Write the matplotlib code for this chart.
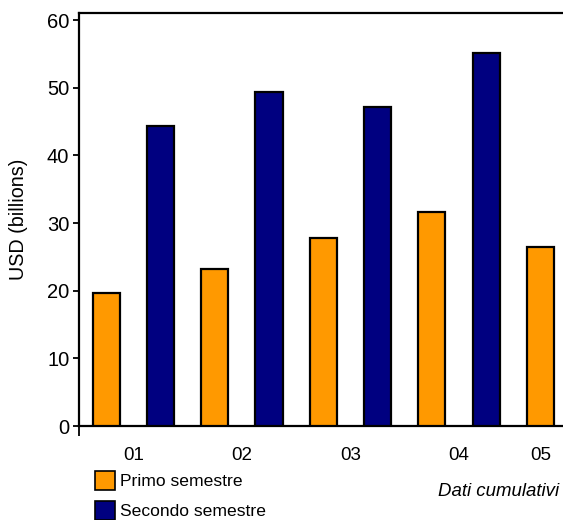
import matplotlib
matplotlib.use("Agg")
import matplotlib.pyplot as plt
from matplotlib.patches import Patch

plt.rcParams['font.family'] = ['Liberation Sans', 'DejaVu Sans']

# Data (USD billions)
categories = ["01", "02", "03", "04", "05"]
primo = [19.6, 23.2, 27.8, 31.6, 26.4]
secondo = [44.3, 49.3, 47.2, 55.1, None]
series_names = ["Primo semestre", "Secondo semestre"]
colors = ["#FF9900", "#000080"]
y_ticks = [0, 10, 20, 30, 40, 50, 60]

W, H = 563, 520
fig = plt.figure(figsize=(W / 100, H / 100), dpi=100)
ax = fig.add_axes([79 / W, 94 / H, (W - 79) / W, (426 - 13) / H])

# Bars sit one after another; each category gets its bars back to back
pos = 0
label_pos = []
for p, s in zip(primo, secondo):
    group = []
    for val, col in zip([p, s], colors):
        if val is None:
            continue
        ax.bar(pos, val, width=0.5, color=col, edgecolor="black", linewidth=1.6, zorder=3)
        group.append(pos)
        pos += 1
    label_pos.append(sum(group) / len(group))

ax.set_xlim(-0.5, 8.416)
ax.set_ylim(0, 61.05)

ax.set_yticks(y_ticks)
ax.set_yticklabels([str(v) for v in y_ticks], fontsize=14.5)
ax.tick_params(axis="y", direction="out", length=4, width=1.3, pad=3)

ax.set_xticks(label_pos)
ax.set_xticklabels(categories, fontsize=13.5)
ax.tick_params(axis="x", which="major", length=0, pad=15)
ax.set_xticks([-0.5], minor=True)
ax.tick_params(axis="x", which="minor", direction="out", length=7, width=1.3)

ax.spines["right"].set_visible(False)
for side in ["left", "bottom", "top"]:
    ax.spines[side].set_linewidth(1.6)

ax.set_ylabel("USD (billions)", fontsize=14.2)
ax.yaxis.set_label_coords(-51 / (W - 79), 0.5)

handles = [Patch(facecolor=c, edgecolor="black", linewidth=1.2) for c in colors]
fig.legend(handles, series_names, loc="upper left",
           bbox_to_anchor=(95 / W, 1 - 471 / H), frameon=False, fontsize=12.6,
           handlelength=1.15, handleheight=1.3, handletextpad=0.3,
           labelspacing=0.62, borderpad=0, borderaxespad=0)

fig.text(559 / W, 1 - 492 / H, "Dati cumulativi", ha="right", va="center",
         fontsize=13.4, style="italic")

fig.savefig("out.png", dpi=100)
